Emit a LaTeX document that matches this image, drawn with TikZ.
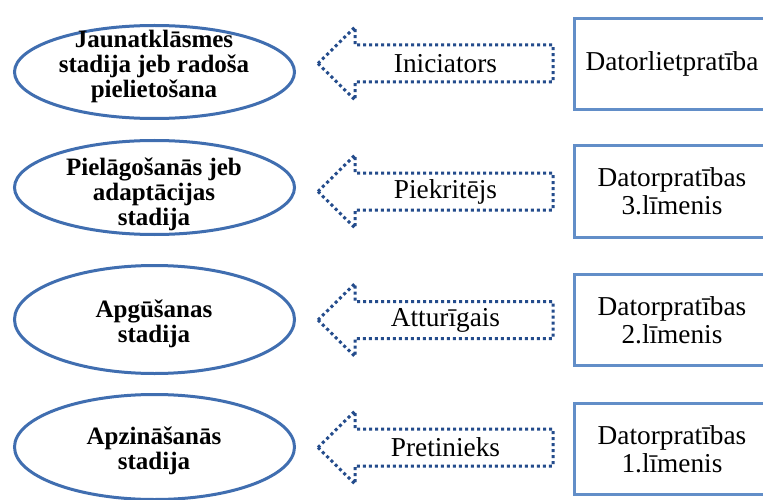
\documentclass[tikz,border=0pt]{standalone}
\usepackage{fontspec}
\setmainfont{Liberation Serif}
\usetikzlibrary{shapes.geometric}
\definecolor{ellblue}{RGB}{64,110,176}
\definecolor{boxblue}{RGB}{98,142,200}
\definecolor{arrblue}{RGB}{36,76,140}
\begin{document}
\begin{tikzpicture}[x=1pt,y=-1pt,
  stage/.style={ellipse, draw=ellblue, line width=3pt, inner sep=0pt},
  stagetext/.style={font=\bfseries\fontsize{25}{25}\selectfont, align=center, inner sep=0pt},
  levelbox/.style={rectangle, draw=boxblue, line width=3pt, fill=white, minimum width=195pt, minimum height=91pt, font=\fontsize{27.3}{28.3}\selectfont, align=center, inner sep=0pt},
  blockarrow/.style={draw=arrblue, line width=3pt, dash pattern=on 3pt off 3pt, line join=miter},
  arrowtext/.style={font=\fontsize{27.3}{28.3}\selectfont, inner sep=0pt}]
\clip (0,0) rectangle (763,500);
\fill[white] (0,0) rectangle (763,500);
% stages (ellipses)
\node[stage, minimum width=280pt, minimum height=93pt] (e1) at (154.5,72) {};
\node[stage, minimum width=280pt, minimum height=94pt] (e2) at (154.5,187.5) {};
\node[stage, minimum width=280pt, minimum height=108pt] (e3) at (154.5,319.5) {};
\node[stage, minimum width=280pt, minimum height=105pt] (e4) at (154.5,447) {};
\node[stagetext] (t1) at (154,66.3) {Jaunatklāsmes\\stadija jeb radoša\\pielietošana};
\node[stagetext] (t2) at (154,194.3) {Pielāgošanās jeb\\adaptācijas\\stadija};
\node[stagetext] (t3) at (154,323.8) {Apgūšanas\\stadija};
\node[stagetext] (t4) at (154,450.6) {Apzināšanās\\stadija};
% level boxes
\node[levelbox] (b1) at (672,64) {Datorlietpratība};
\node[levelbox] (b2) at (672,191.5) {Datorpratības\\3.līmenis};
\node[levelbox] (b3) at (672,320) {Datorpratības\\2.līmenis};
\node[levelbox] (b4) at (672,449) {Datorpratības\\1.līmenis};
% block arrows
\foreach \cy/\nm/\txt in {63.5/a1/Iniciators, 191.5/a2/Piekritējs, 320/a3/Atturīgais, 447.5/a4/Pretinieks}{
  \draw[blockarrow] (318,\cy) -- (355,{\cy-36.5}) -- (355,{\cy-18.5}) -- (553,{\cy-18.5})
     -- (553,{\cy+18.5}) -- (355,{\cy+18.5}) -- (355,{\cy+36.5}) -- cycle;
  \node[arrowtext] (\nm) at (445.5,\cy) {\txt};
}
\end{tikzpicture}
\end{document}
